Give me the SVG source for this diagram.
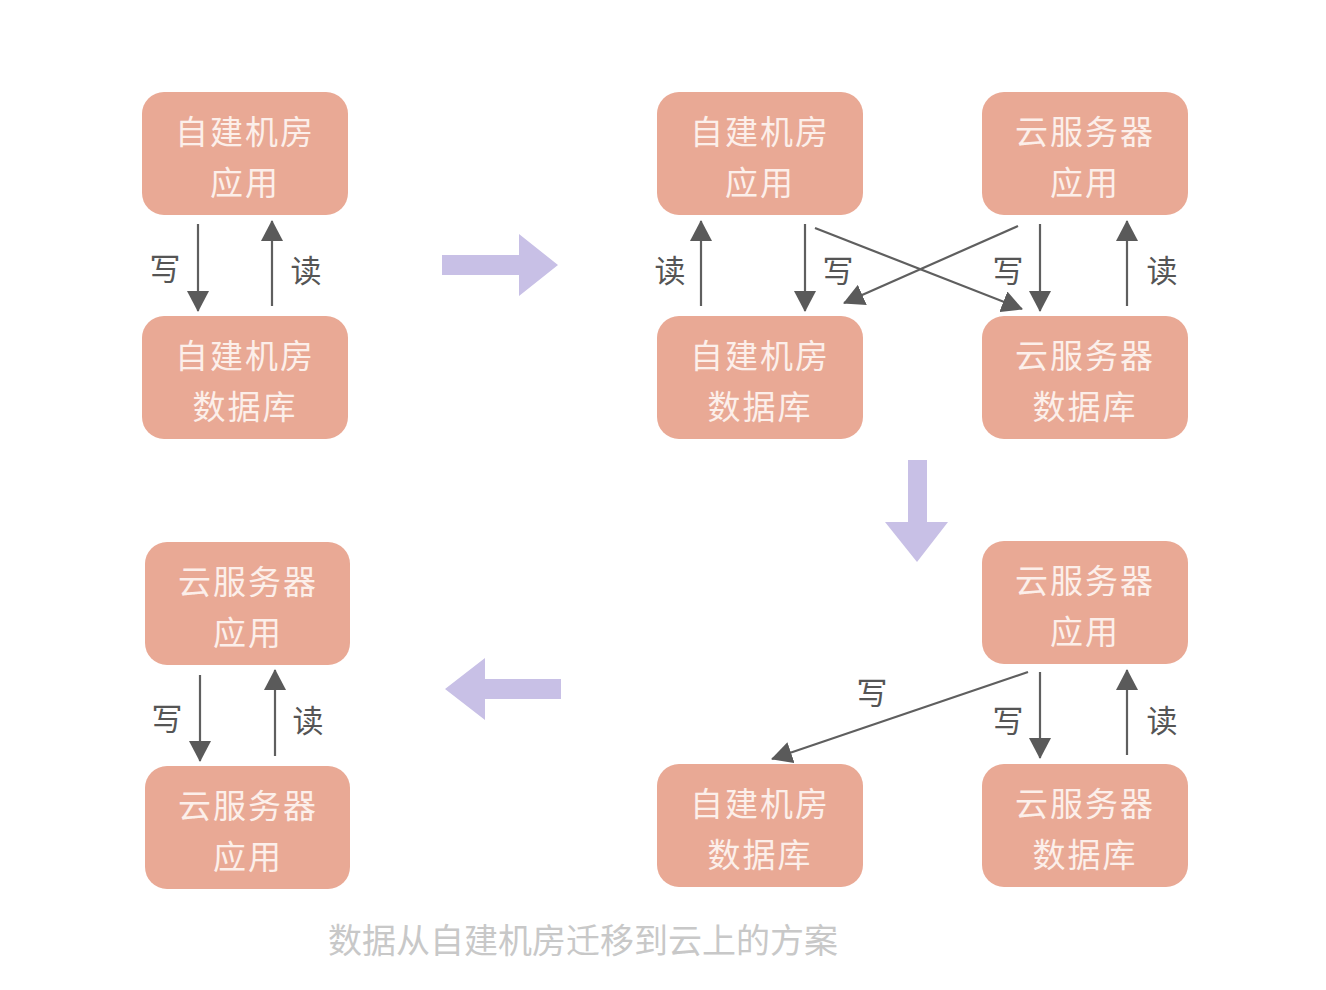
<svg xmlns="http://www.w3.org/2000/svg" width="1326" height="990" viewBox="0 0 1326 990">
<defs>
<style>
.box rect{fill:#E9A995;}
.box text{fill:#FCEFEA;font-family:"Noto Sans CJK SC",sans-serif;font-size:33px;text-anchor:middle;dominant-baseline:central;letter-spacing:2px;}
.conn line{stroke:#5f5f5f;stroke-width:2.2;marker-end:url(#ah);}
.lbl{fill:#555;font-family:"Noto Sans CJK SC",sans-serif;font-size:31px;text-anchor:middle;dominant-baseline:central;}
.big{fill:#C8C0E6;}
.cap{fill:#C8C8C8;font-family:"Noto Sans CJK SC",sans-serif;font-size:34px;}
</style>
<marker id="ah" viewBox="0 0 22 22" refX="20" refY="11" markerWidth="22" markerHeight="22" markerUnits="userSpaceOnUse" orient="auto">
<path d="M0,0 L21,11 L0,22 z" fill="#5a5a5a"/>
</marker>
</defs>
<rect width="1326" height="990" fill="#ffffff"/>

<g id="a1" class="box"><rect x="142" y="92" width="206" height="123" rx="22"/><text x="245" y="130">自建机房</text><text x="245" y="181">应用</text></g>
<g id="a2" class="box"><rect x="142" y="316" width="206" height="123" rx="22"/><text x="245" y="354">自建机房</text><text x="245" y="405">数据库</text></g>

<g id="b1" class="box"><rect x="657" y="92" width="206" height="123" rx="22"/><text x="760" y="130">自建机房</text><text x="760" y="181">应用</text></g>
<g id="b2" class="box"><rect x="982" y="92" width="206" height="123" rx="22"/><text x="1085" y="130">云服务器</text><text x="1085" y="181">应用</text></g>
<g id="b3" class="box"><rect x="657" y="316" width="206" height="123" rx="22"/><text x="760" y="354">自建机房</text><text x="760" y="405">数据库</text></g>
<g id="b4" class="box"><rect x="982" y="316" width="206" height="123" rx="22"/><text x="1085" y="354">云服务器</text><text x="1085" y="405">数据库</text></g>

<g id="c1" class="box"><rect x="982" y="541" width="206" height="123" rx="22"/><text x="1085" y="579">云服务器</text><text x="1085" y="630">应用</text></g>
<g id="c2" class="box"><rect x="657" y="764" width="206" height="123" rx="22"/><text x="760" y="802">自建机房</text><text x="760" y="853">数据库</text></g>
<g id="c3" class="box"><rect x="982" y="764" width="206" height="123" rx="22"/><text x="1085" y="802">云服务器</text><text x="1085" y="853">数据库</text></g>

<g id="d1" class="box"><rect x="145" y="542" width="205" height="123" rx="22"/><text x="248" y="580">云服务器</text><text x="248" y="631">应用</text></g>
<g id="d2" class="box"><rect x="145" y="766" width="205" height="123" rx="22"/><text x="248" y="804">云服务器</text><text x="248" y="855">应用</text></g>

<g id="connectors" class="conn">
<line x1="198" y1="224" x2="198" y2="311"/>
<line x1="272" y1="306" x2="272" y2="221"/>
<line x1="701" y1="306" x2="701" y2="221"/>
<line x1="805" y1="224" x2="805" y2="311"/>
<line x1="815" y1="228" x2="1022" y2="309"/>
<line x1="1018" y1="226" x2="844" y2="303"/>
<line x1="1040" y1="224" x2="1040" y2="311"/>
<line x1="1127" y1="306" x2="1127" y2="221"/>
<line x1="1028" y1="672" x2="772" y2="759"/>
<line x1="1040" y1="672" x2="1040" y2="758"/>
<line x1="1127" y1="755" x2="1127" y2="670"/>
<line x1="200" y1="675" x2="200" y2="761"/>
<line x1="275" y1="756" x2="275" y2="670"/>
</g>

<g id="labels">
<text class="lbl" x="165" y="266">写</text>
<text class="lbl" x="306" y="268">读</text>
<text class="lbl" x="670" y="268">读</text>
<text class="lbl" x="838" y="268">写</text>
<text class="lbl" x="1008" y="268">写</text>
<text class="lbl" x="1162" y="268">读</text>
<text class="lbl" x="872" y="690">写</text>
<text class="lbl" x="1008" y="718">写</text>
<text class="lbl" x="1162" y="718">读</text>
<text class="lbl" x="167" y="716">写</text>
<text class="lbl" x="308" y="718">读</text>
</g>

<g id="flow">
<path class="big" d="M442,255 L519,255 L519,234 L558,265 L519,296 L519,275 L442,275 z"/>
<path class="big" d="M908,460 L927,460 L927,522 L948,522 L917,562 L885,522 L908,522 z"/>
<path class="big" d="M561,679 L485,679 L485,658 L445,689 L485,720 L485,699 L561,699 z"/>
</g>

<text class="cap" x="328" y="953">数据从自建机房迁移到云上的方案</text>
</svg>
